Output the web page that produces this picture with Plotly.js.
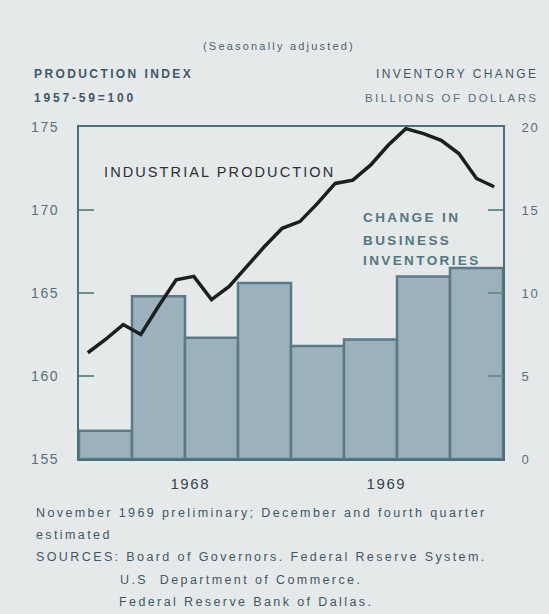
<!DOCTYPE html>
<html>
<head>
<meta charset="utf-8">
<script src="https://cdn.plot.ly/plotly-3.0.1.min.js"></script>
<style>
html,body{margin:0;padding:0;background:#e6e9e9;}
#chart{width:549px;height:614px;}
text{letter-spacing:1.6px;}
</style>
</head>
<body>
<div id="chart"></div>
<script>
// Quarterly change in business inventories (billions of dollars), 1968 Q1 - 1969 Q4
const quarterPos = [1.5, 4.5, 7.5, 10.5, 13.5, 16.5, 19.5, 22.5];
const inventoryChange = [1.7, 9.8, 7.3, 10.6, 6.8, 7.2, 11.0, 11.5];

// Monthly industrial production index (1957-59=100), Jan 1968 - Dec 1969
const monthPos = [0.5,1.5,2.5,3.5,4.5,5.5,6.5,7.5,8.5,9.5,10.5,11.5,
                  12.5,13.5,14.5,15.5,16.5,17.5,18.5,19.5,20.5,21.5,22.5,23.5];
const production = [161.4,162.2,163.1,162.5,164.2,165.8,166.0,164.6,165.4,166.6,167.8,168.9,
                    169.3,170.4,171.6,171.8,172.7,173.9,174.9,174.6,174.2,173.4,171.9,171.4];

const yearTickPos = [6.3, 17.4];
const yearTickText = ['1968', '1969'];
const prodTicks = [155, 160, 165, 170, 175];
const invTicks = [0, 5, 10, 15, 20];

const txt = '#3d5866';
const frame = '#4f6e7c';
const tickc = '#6f8e8c';
const FF = 'Liberation Sans, Arial, sans-serif';

const traces = [
  {
    type: 'bar', x: quarterPos, y: inventoryChange, width: 3, yaxis: 'y',
    marker: {color: '#9bb1bb', line: {color: '#5a7a88', width: 2.5}},
    hoverinfo: 'skip'
  },
  {
    type: 'scatter', mode: 'lines', x: monthPos, y: production, yaxis: 'y2',
    line: {color: '#1c1e1f', width: 3.5, shape: 'linear'},
    hoverinfo: 'skip'
  }
];

const L = 79, R = 503, T = 127, B = 459;
const px = v => (v - L) / (R - L);
const py = v => (B - v) / (B - T);
const sp = (s, ls) => '<span style="letter-spacing:' + ls + 'px">' + s + '</span>';

function ann(text, x, y, opts) {
  return Object.assign({
    text: text, xref: 'paper', yref: 'paper', x: px(x), y: py(y),
    xanchor: 'left', yanchor: 'middle', align: 'left', showarrow: false,
    font: {family: FF, size: 12.5, color: txt}
  }, opts || {});
}

const annotations = [
  ann(sp('(Seasonally adjusted)', 2.2), 279, 46, {xanchor: 'center', font: {family: FF, size: 11, color: '#4a6370'}}),
  ann('<b>' + sp('PRODUCTION INDEX', 2.4) + '</b>', 32, 74, {font: {family: FF, size: 12, color: txt}}),
  ann('<b>' + sp('1957-59=100', 2.8) + '</b>', 32, 98, {font: {family: FF, size: 12, color: txt}}),
  ann(sp('INVENTORY CHANGE', 2.4), 540, 74, {xanchor: 'right', align: 'right', font: {family: FF, size: 12, color: txt}}),
  ann(sp('BILLIONS OF DOLLARS', 2.4), 540, 98, {xanchor: 'right', align: 'right', font: {family: FF, size: 11.5, color: '#566f7a'}}),
  ann(sp('INDUSTRIAL PRODUCTION', 2.1), 102, 172, {font: {family: FF, size: 14.5, color: '#2a3034'}}),
  ann('<b>' + sp('CHANGE IN', 2.4) + '</b>', 361, 217, {font: {family: FF, size: 13.5, color: '#4f7882'}}),
  ann('<b>' + sp('BUSINESS', 2.4) + '</b>', 361, 240, {font: {family: FF, size: 13.5, color: '#4f7882'}}),
  ann('<b>' + sp('INVENTORIES', 2.4) + '</b>', 361, 260, {font: {family: FF, size: 13.5, color: '#4f7882'}}),
  ann(sp('November 1969 preliminary; December and fourth quarter', 2.4), 34, 513),
  ann(sp('estimated', 2.4), 34, 535),
  ann(sp('SOURCES: Board of Governors. Federal Reserve System.', 2.4), 34, 557),
  ann(sp('U.S  Department of Commerce.', 2.4), 118, 580),
  ann(sp('Federal Reserve Bank of Dallas.', 2.4), 117, 602)
];

const layout = {
  width: 549, height: 614,
  margin: {l: L, r: 549 - R, t: T, b: 614 - B, pad: 0},
  paper_bgcolor: '#e6e9e9', plot_bgcolor: '#e6e9e9',
  showlegend: false,
  bargap: 0,
  font: {family: FF, color: txt},
  xaxis: {
    range: [0, 24], tickvals: yearTickPos, ticktext: yearTickText,
    ticks: '', showgrid: false, zeroline: false,
    showline: true, linecolor: frame, linewidth: 2, mirror: true,
    tickfont: {size: 15, color: '#33454f'}, ticklabelstandoff: 10
  },
  yaxis: {
    range: [0, 20], side: 'right', tickvals: invTicks,
    ticks: 'inside', ticklen: 15, tickwidth: 2, tickcolor: tickc,
    showgrid: false, zeroline: false,
    showline: true, linecolor: frame, linewidth: 2,
    tickfont: {size: 13, color: '#577079'}, ticklabelstandoff: 14
  },
  yaxis2: {
    range: [155, 175], side: 'left', overlaying: 'y', tickvals: prodTicks,
    ticks: 'inside', ticklen: 15, tickwidth: 2, tickcolor: tickc,
    showgrid: false, zeroline: false,
    showline: true, linecolor: frame, linewidth: 2,
    tickfont: {size: 14, color: '#577079'}, ticklabelstandoff: 15
  },
  annotations: annotations
};

Plotly.newPlot('chart', traces, layout, {staticPlot: true, displayModeBar: false});
</script>
</body>
</html>
